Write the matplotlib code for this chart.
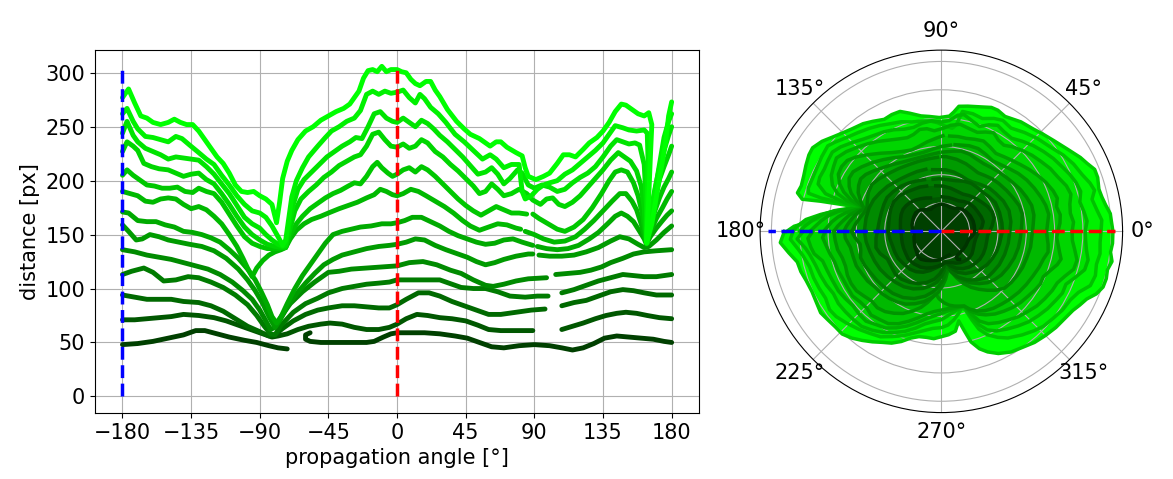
import matplotlib
matplotlib.use("Agg")
import matplotlib.pyplot as plt
import numpy as np

N = None  # gap in a traced contour

# distance [px] vs propagation angle [deg], one list per contour, darkest first
c0 = [(-180, 48), (-170, 49), (-160, 51), (-150, 54), (-140, 57), (-132, 61), (-126, 61), (-118, 58),
      (-110, 55), (-100, 52), (-92, 50), (-84, 47), (-78, 45), (-72, 44), N,
      (-57, 59), (-60, 57), (-60, 53), (-57, 51), (-50, 50), (-40, 50), (-30, 50), (-20, 50), (-15, 51),
      (-9, 55), (-4, 58), (0, 59), (10, 59), (18, 59), (28, 58), (38, 56), (46, 54), (54, 50), (62, 46),
      (70, 45), (80, 47), (90, 48), (100, 47), (108, 45), (115, 43), (122, 45), (129, 49), (136, 54),
      (144, 56), (152, 55), (160, 54), (168, 53), (175, 51), (180, 50)]
c1 = [(-180, 71), (-172, 71), (-164, 72), (-156, 73), (-148, 74), (-140, 76), (-130, 75), (-120, 73),
      (-112, 70), (-104, 66), (-96, 62), (-88, 58), (-82, 55), (-78, 56), (-72, 58), (-65, 62), (-58, 65),
      (-50, 67), (-44, 68), (-36, 67), (-28, 64), (-20, 62), (-12, 62), (-5, 64), (0, 67), (6, 72), (13, 76),
      (20, 75), (28, 73), (36, 72), (45, 70), (53, 66), (60, 62), (68, 61), (78, 61), (89, 61), N,
      (108, 62), (115, 65), (122, 68), (130, 72), (137, 75), (144, 77), (150, 78), (157, 77), (164, 75),
      (172, 73), (180, 72)]
c2 = [(-180, 94), (-172, 92), (-164, 90), (-156, 90), (-148, 90), (-140, 88), (-130, 87), (-122, 84),
      (-114, 79), (-106, 72), (-98, 65), (-90, 60), (-84, 56), (-80, 57), (-75, 63), (-68, 70), (-60, 76),
      (-52, 80), (-45, 82), (-36, 84), (-28, 84), (-20, 83), (-12, 82), (-5, 82), (0, 85), (6, 90), (14, 96),
      (21, 96), (28, 93), (36, 88), (44, 84), (52, 80), (60, 76), (68, 76), (78, 78), (88, 80), (97, 81), N,
      (108, 84), (116, 87), (124, 89), (132, 93), (140, 97), (148, 99), (155, 98), (162, 96), (170, 94),
      (180, 94)]
c3 = [(-180, 113), (-174, 116), (-166, 119), (-160, 115), (-153, 107), (-145, 108), (-137, 111), (-130, 110),
      (-122, 106), (-114, 101), (-106, 94), (-98, 85), (-92, 75), (-87, 65), (-83, 58), (-80, 57), (-76, 66),
      (-68, 78), (-60, 86), (-52, 91), (-45, 96), (-36, 100), (-28, 102), (-20, 104), (-12, 105), (-5, 106),
      (0, 108), (8, 108), (18, 108), (28, 108), (36, 104), (42, 101), (50, 100), (58, 100), (66, 97), (74, 93),
      (84, 92), (92, 93), (99, 93), N, (108, 96), (116, 99), (124, 103), (132, 107), (140, 110), (148, 113),
      (155, 112), (162, 111), (170, 111), (180, 113)]
c4 = [(-180, 136), (-172, 134), (-164, 131), (-156, 129), (-148, 127), (-140, 124), (-132, 121), (-124, 118),
      (-116, 113), (-108, 106), (-101, 98), (-95, 90), (-90, 80), (-86, 70), (-83, 62), (-80, 64), (-76, 74),
      (-70, 86), (-62, 97), (-54, 106), (-45, 115), (-38, 116), (-30, 118), (-20, 119), (-10, 120), (0, 121),
      (8, 124), (17, 125), (26, 122), (35, 117), (42, 114), (50, 108), (58, 103), (63, 102), (70, 104),
      (78, 107), (86, 109), (98, 110), N, (104, 113), (112, 114), (120, 115), (127, 117), (134, 120),
      (140, 124), (148, 128), (155, 132), (162, 134), (170, 135), (180, 136)]
c5 = [(-180, 159), (-176, 153), (-171, 145), (-167, 146), (-162, 150), (-156, 148), (-150, 145), (-143, 143),
      (-136, 141), (-128, 139), (-120, 135), (-112, 128), (-104, 118), (-98, 108), (-93, 98), (-88, 86),
      (-84, 74), (-80, 64), (-77, 70), (-72, 83), (-66, 95), (-60, 105), (-54, 114), (-48, 122), (-42, 127),
      (-36, 131), (-28, 134), (-20, 137), (-12, 139), (-5, 140), (0, 141), (6, 143), (12, 146), (18, 145),
      (25, 140), (32, 136), (40, 132), (46, 129), (52, 125), (58, 122), (64, 124), (70, 127), (78, 130),
      (86, 132), (89, 132), N, (93, 131), (100, 130), (108, 130), (116, 131), (124, 134), (132, 138),
      (140, 144), (146, 148), (152, 146), (158, 141), (162, 138), (165, 139), (170, 145), (175, 152),
      (180, 158)]
c6 = [(-180, 171), (-176, 170), (-170, 163), (-164, 162), (-158, 162), (-152, 159), (-146, 157), (-140, 153),
      (-134, 152), (-128, 150), (-122, 147), (-116, 143), (-110, 136), (-104, 128), (-98, 118), (-93, 108),
      (-89, 97), (-85, 85), (-82, 74), (-79, 68), (-76, 74), (-72, 86), (-67, 100), (-62, 112), (-57, 122),
      (-52, 132), (-47, 142), (-42, 150), (-36, 153), (-30, 155), (-24, 157), (-17, 158), (-10, 160),
      (-4, 160), (0, 161), (5, 163), (10, 166), (16, 166), (22, 162), (28, 158), (34, 153), (40, 149),
      (46, 146), (52, 143), (58, 141), (64, 142), (70, 145), (76, 146), (82, 143), (89, 140), N,
      (92, 139), (98, 137), (105, 136), (112, 137), (119, 140), (126, 146), (132, 152), (138, 160),
      (143, 167), (147, 170), (151, 167), (155, 162), (159, 153), (162, 146), (163.5, 141), (166, 148),
      (170, 156), (174, 163), (177, 168), (180, 172)]
c7 = [(-180, 190), (-175, 188), (-170, 186), (-165, 181), (-160, 180), (-155, 183), (-150, 184), (-145, 183),
      (-140, 178), (-135, 174), (-130, 176), (-125, 173), (-120, 167), (-115, 160), (-110, 150), (-105, 139),
      (-101, 128), (-98, 119), (-95, 111), (-92, 119), (-88, 126), (-84, 131), (-80, 134), (-76, 136),
      (-73, 138), (-70, 146), (-66, 154), (-61, 160), (-56, 164), (-50, 167), (-45, 170), (-38, 174),
      (-32, 177), (-26, 180), (-20, 184), (-15, 187), (-11, 192), (-7, 190), (-3, 187), (0, 186), (4, 188),
      (9, 192), (14, 190), (19, 186), (25, 181), (31, 176), (37, 170), (43, 163), (48, 158), (54, 154),
      (60, 157), (66, 160), (72, 159), (78, 156), (81, 155), N, (84, 153), (90, 150), (96, 146), (103, 143),
      (110, 144), (117, 148), (123, 155), (129, 163), (135, 172), (141, 181), (146, 188), (150, 188),
      (154, 181), (157, 173), (160, 160), (163.5, 142), (166, 152), (170, 165), (174, 175), (177, 183),
      (180, 190)]
c8 = [(-180, 205), (-177, 210), (-173, 205), (-169, 201), (-164, 196), (-159, 195), (-154, 193), (-149, 193),
      (-144, 194), (-139, 190), (-134, 189), (-130, 193), (-125, 190), (-120, 188), (-115, 180), (-110, 169),
      (-105, 158), (-100, 148), (-95, 142), (-90, 139), (-85, 137), (-80, 137), (-76, 137), (-73, 138),
      (-70, 150), (-66, 160), (-62, 167), (-57, 174), (-52, 179), (-47, 184), (-42, 188), (-37, 191),
      (-32, 195), (-28, 198), (-24, 197), (-20, 204), (-16, 213), (-13, 217), (-10, 212), (-6, 207),
      (-3, 204), (0, 206), (4, 210), (8, 212), (12, 208), (16, 213), (20, 210), (25, 204), (30, 197),
      (35, 190), (40, 183), (45, 177), (50, 172), (55, 168), (60, 172), (65, 176), (70, 173), (75, 170),
      (80, 170), (85, 169), N, (89, 169), (93, 165), (99, 160), (105, 155), (110, 153), (116, 157),
      (122, 164), (128, 175), (134, 188), (139, 200), (143, 208), (147, 210), (151, 208), (155, 198),
      (158, 186), (161, 168), (163.5, 142), (166, 157), (169, 172), (172, 184), (175, 194), (178, 202),
      (180, 208)]
c9 = [(-180, 227), (-177, 236), (-173, 232), (-170, 228), (-166, 216), (-161, 213), (-156, 211), (-150, 210),
      (-145, 207), (-140, 204), (-135, 206), (-130, 207), (-125, 201), (-120, 197), (-115, 188), (-110, 178),
      (-105, 167), (-100, 157), (-95, 150), (-90, 145), (-85, 141), (-80, 139), (-76, 138), (-73, 138),
      (-70, 156), (-67, 172), (-63, 183), (-58, 190), (-53, 196), (-48, 203), (-43, 208), (-38, 214),
      (-33, 218), (-28, 222), (-24, 224), (-20, 232), (-16, 243), (-12, 245), (-8, 238), (-4, 232), (0, 231),
      (4, 234), (8, 230), (12, 232), (16, 238), (20, 235), (25, 227), (30, 222), (35, 215), (40, 209),
      (45, 202), (50, 195), (54, 188), (58, 190), (62, 197), (66, 192), (70, 186), (75, 188), (80, 192),
      (85, 188), (89, 182), (94, 178), (98, 183), (102, 184), (106, 178), (110, 176), (115, 180), (120, 186),
      (125, 194), (130, 202), (135, 210), (140, 219), (145, 226), (149, 222), (153, 218), (157, 209),
      (160, 195), (162, 175), (163.5, 142), (166, 165), (169, 185), (172, 201), (175, 213), (178, 224),
      (180, 232)]
c10 = [(-180, 244), (-177, 255), (-173, 242), (-170, 236), (-165, 230), (-160, 227), (-155, 224), (-150, 220),
       (-145, 222), (-140, 221), (-135, 220), (-130, 219), (-125, 213), (-120, 206), (-115, 197), (-110, 188),
       (-105, 177), (-100, 166), (-95, 160), (-90, 156), (-86, 150), (-82, 145), (-78, 141), (-75, 139),
       (-73, 140), (-71, 158), (-68, 178), (-65, 192), (-61, 201), (-56, 208), (-51, 215), (-46, 222),
       (-41, 227), (-36, 232), (-31, 236), (-27, 240), (-23, 239), (-19, 250), (-15, 262), (-11, 264),
       (-7, 258), (-3, 255), (0, 254), (4, 258), (8, 254), (12, 250), (16, 256), (20, 253), (24, 248),
       (28, 242), (33, 236), (38, 229), (43, 222), (48, 214), (53, 206), (58, 208), (62, 212), (66, 206),
       (70, 197), (74, 202), (79, 210), (82, 207), (86, 196), (90, 193), (95, 196), (100, 194), (105, 190),
       (110, 192), (115, 198), (120, 203), (125, 207), (130, 213), (135, 222), (140, 232), (144, 238),
       (148, 236), (152, 234), (156, 235), (159, 233), (162, 215), (163.5, 176), (164, 142), (166, 168),
       (169, 192), (172, 212), (175, 228), (178, 242), (180, 250)]
c11 = [(-180, 262), (-177, 267), (-173, 255), (-170, 248), (-165, 241), (-160, 240), (-155, 238), (-150, 236),
       (-145, 241), (-141, 239), (-136, 233), (-130, 226), (-125, 220), (-120, 215), (-115, 205), (-110, 196),
       (-105, 186), (-100, 178), (-95, 172), (-90, 170), (-86, 166), (-82, 158), (-78, 148), (-75, 140),
       (-73, 145), (-71, 165), (-69, 185), (-66, 200), (-62, 212), (-58, 222), (-52, 232), (-47, 240),
       (-43, 246), (-38, 250), (-33, 255), (-28, 258), (-24, 265), (-20, 280), (-16, 283), (-12, 280),
       (-8, 283), (-4, 281), (0, 282), (4, 284), (8, 277), (12, 272), (15, 280), (18, 276), (22, 268),
       (27, 262), (32, 254), (38, 243), (44, 236), (50, 228), (56, 220), (61, 224), (65, 220), (70, 212),
       (75, 215), (80, 215), (82, 190), (84, 183), (88, 186), (92, 192), (96, 196), (100, 198), (105, 200),
       (110, 206), (115, 210), (120, 216), (125, 222), (130, 228), (135, 235), (140, 245), (143, 251),
       (148, 249), (152, 247), (157, 246), (162, 247), (164, 244), (164.5, 220), (164, 180), (163.5, 143),
       (166, 165), (169, 190), (172, 215), (175, 240), (178, 255), (180, 262)]
c12 = [(-180, 277), (-176, 285), (-172, 272), (-168, 260), (-164, 258), (-160, 254), (-155, 252), (-150, 254),
       (-146, 257), (-142, 254), (-138, 252), (-134, 252), (-130, 246), (-126, 238), (-122, 230), (-118, 222),
       (-114, 216), (-110, 207), (-106, 196), (-102, 190), (-98, 189), (-94, 190), (-90, 186), (-86, 183),
       (-82, 178), (-79, 161), (-77, 180), (-75, 202), (-72, 218), (-69, 228), (-65, 238), (-60, 246),
       (-55, 250), (-50, 256), (-45, 260), (-40, 264), (-35, 267), (-31, 271), (-28, 277), (-25, 283),
       (-22, 295), (-19, 302), (-16, 303), (-13, 301), (-10, 306), (-7, 301), (-4, 303), (0, 303), (3, 301),
       (6, 300), (9, 294), (12, 290), (15, 288), (19, 292), (22, 292), (25, 284), (28, 278), (33, 266),
       (39, 255), (44, 248), (48, 243), (54, 239), (61, 232), (65, 236), (68, 236), (72, 231), (78, 226),
       (82, 223), (84, 212), (86, 204), (91, 201), (96, 204), (100, 207), (105, 216), (109, 224), (113, 224),
       (117, 222), (122, 229), (126, 235), (131, 240), (135, 246), (139, 254), (143, 264), (147, 271),
       (150, 270), (154, 266), (158, 262), (162, 260), (165, 263), (167, 252), (166, 220), (165, 185),
       (163.5, 142), (167, 160), (170, 185), (173, 210), (176, 235), (178, 260), (180, 273)]

contours = [c0, c1, c2, c3, c4, c5, c6, c7, c8, c9, c10, c11, c12]
greens = 0.25 + 0.75 * np.linspace(0, 1, len(contours)) ** 0.85


def to_arrays(pts):
    ang = np.array([np.nan if p is None else p[0] for p in pts], dtype=float)
    dist = np.array([np.nan if p is None else p[1] for p in pts], dtype=float)
    return ang, dist


plt.rcParams["font.size"] = 15
fig = plt.figure(figsize=(11.73, 4.79), dpi=100)
ax = fig.add_axes([0.081, 0.138, 0.515, 0.758])
pax = fig.add_axes([0.648, 0.138, 0.309, 0.758], projection="polar")

rmax = 0
for c, g in zip(contours, greens):
    ang, dist = to_arrays(c)
    rmax = max(rmax, np.nanmax(dist))
    ax.plot(ang, dist, "-", color=(0, g, 0), lw=3.5,
            solid_capstyle="round", solid_joinstyle="round")

ax.plot([0, 0], [0, rmax], "--", color="red", lw=2.5)
ax.plot([-180, -180], [0, rmax], "--", color="blue", lw=2.5)
ax.set_xticks(np.arange(-180, 181, 45))
ax.set_yticks(np.arange(0, 301, 50))
ax.grid(True)
ax.set_xlabel("propagation angle [°]")
ax.set_ylabel("distance [px]")

# polar view: largest contour first so the inner ones sit on top
for c, g in reversed(list(zip(contours, greens))):
    ang, dist = to_arrays(c)
    ok = np.isfinite(ang)
    pax.fill(np.deg2rad(ang[ok]), dist[ok], color=(0, g, 0), lw=0)
    pax.plot(np.deg2rad(ang), dist, color=(0, 0.8 * g, 0), lw=2.5)

pax.plot([0, 0], [0, rmax], "--", color="red", lw=2.5)
pax.plot([np.pi, np.pi], [0, rmax], "--", color="blue", lw=2.5)
pax.set_ylim(0, 320)
pax.set_yticks(np.arange(50, 301, 50))
pax.set_yticklabels([])

fig.savefig("out.png", dpi=100)
